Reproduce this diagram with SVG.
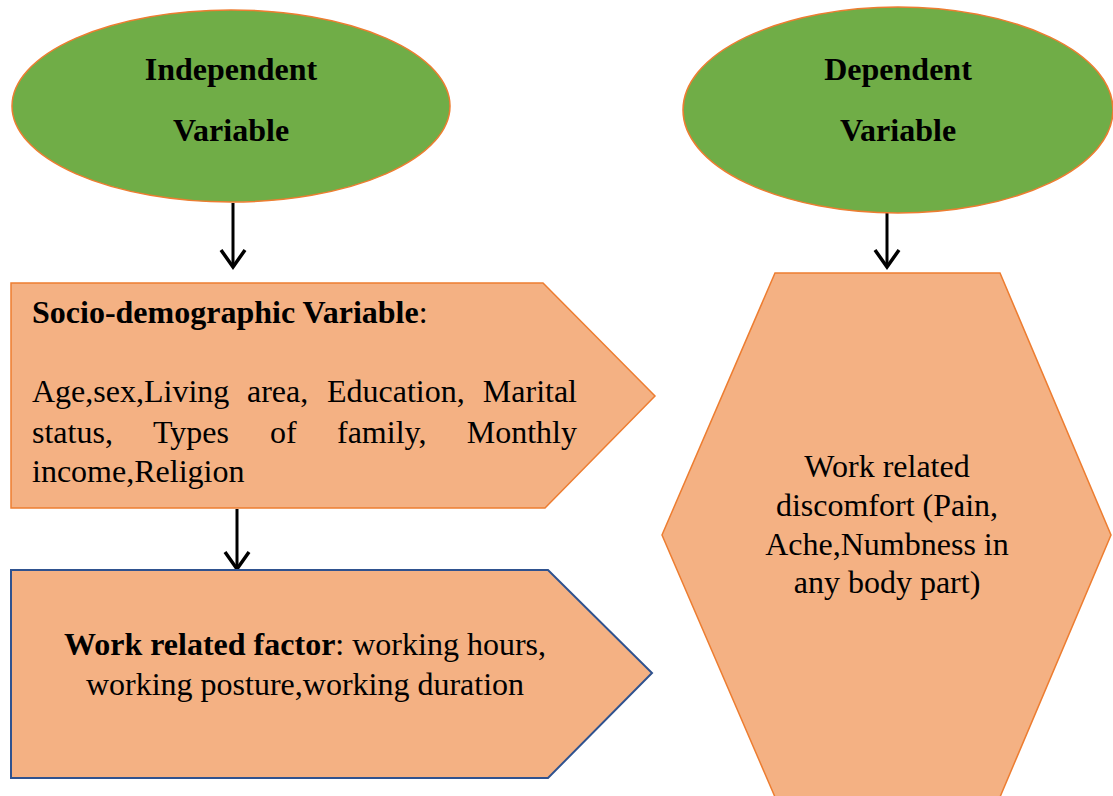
<svg xmlns="http://www.w3.org/2000/svg" width="1113" height="796" viewBox="0 0 1113 796">
<defs>
<style>
.ell{fill:#70AD47;stroke:#ED7D31;stroke-width:1.5}
.box{fill:#F4B183;stroke:#ED7D31;stroke-width:1.5}
.boxb{fill:#F4B183;stroke:#2F528F;stroke-width:2}
.t{font-family:"Liberation Serif","Times New Roman",serif;font-size:32px;fill:#000}
.b{font-weight:bold}
.c{text-anchor:middle}
.e{text-anchor:end}
.conn{stroke:#000;stroke-width:3;fill:none}
</style>
<marker id="arr" markerUnits="userSpaceOnUse" viewBox="-20 -15 24 30" refX="0" refY="0" markerWidth="24" markerHeight="30" orient="auto">
<path d="M -17,-12 L 0,0 L -17,12" fill="none" stroke="#000" stroke-width="3.5"/>
</marker>
</defs>
<rect width="1113" height="796" fill="#fff"/>
<g id="connectors">
<line class="conn" x1="233" y1="203" x2="233" y2="267" marker-end="url(#arr)"/>
<line class="conn" x1="887" y1="213" x2="887" y2="267" marker-end="url(#arr)"/>
<line class="conn" x1="237" y1="509" x2="237" y2="569" marker-end="url(#arr)"/>
</g>
<g id="independent">
<ellipse class="ell" cx="231" cy="106" rx="219" ry="96"/>
<text class="t b c" x="231" y="80">Independent</text>
<text class="t b c" x="231" y="141">Variable</text>
</g>
<g id="dependent">
<ellipse class="ell" cx="898" cy="110" rx="215" ry="103"/>
<text class="t b c" x="898" y="80">Dependent</text>
<text class="t b c" x="898" y="141">Variable</text>
</g>
<g id="socio">
<polygon class="box" points="11,283 543,283 655,396 545,508 11,508"/>
<text class="t" x="32" y="323"><tspan class="b">Socio-demographic Variable</tspan>:</text>
<text class="t" y="402"><tspan x="32">Age,sex,Living</tspan><tspan x="247">area,</tspan><tspan x="327">Education,</tspan><tspan x="577" class="e">Marital</tspan></text>
<text class="t" y="443"><tspan x="32">status,</tspan><tspan x="153">Types</tspan><tspan x="270">of</tspan><tspan x="337">family,</tspan><tspan x="577" class="e">Monthly</tspan></text>
<text class="t" x="32" y="482">income,Religion</text>
</g>
<g id="work">
<polygon class="boxb" points="11,570 548,570 652,673 548,778 11,778"/>
<text class="t c" x="305" y="655"><tspan class="b">Work related factor</tspan>: working hours,</text>
<text class="t c" x="305" y="695">working posture,working duration</text>
</g>
<g id="discomfort">
<polygon class="box" points="775,273 1000,273 1111,535 1000,797 775,797 662,535"/>
<text class="t c" x="887" y="477">Work related</text>
<text class="t c" x="887" y="516">discomfort (Pain,</text>
<text class="t c" x="887" y="555">Ache,Numbness in</text>
<text class="t c" x="887" y="593">any body part)</text>
</g>
</svg>
